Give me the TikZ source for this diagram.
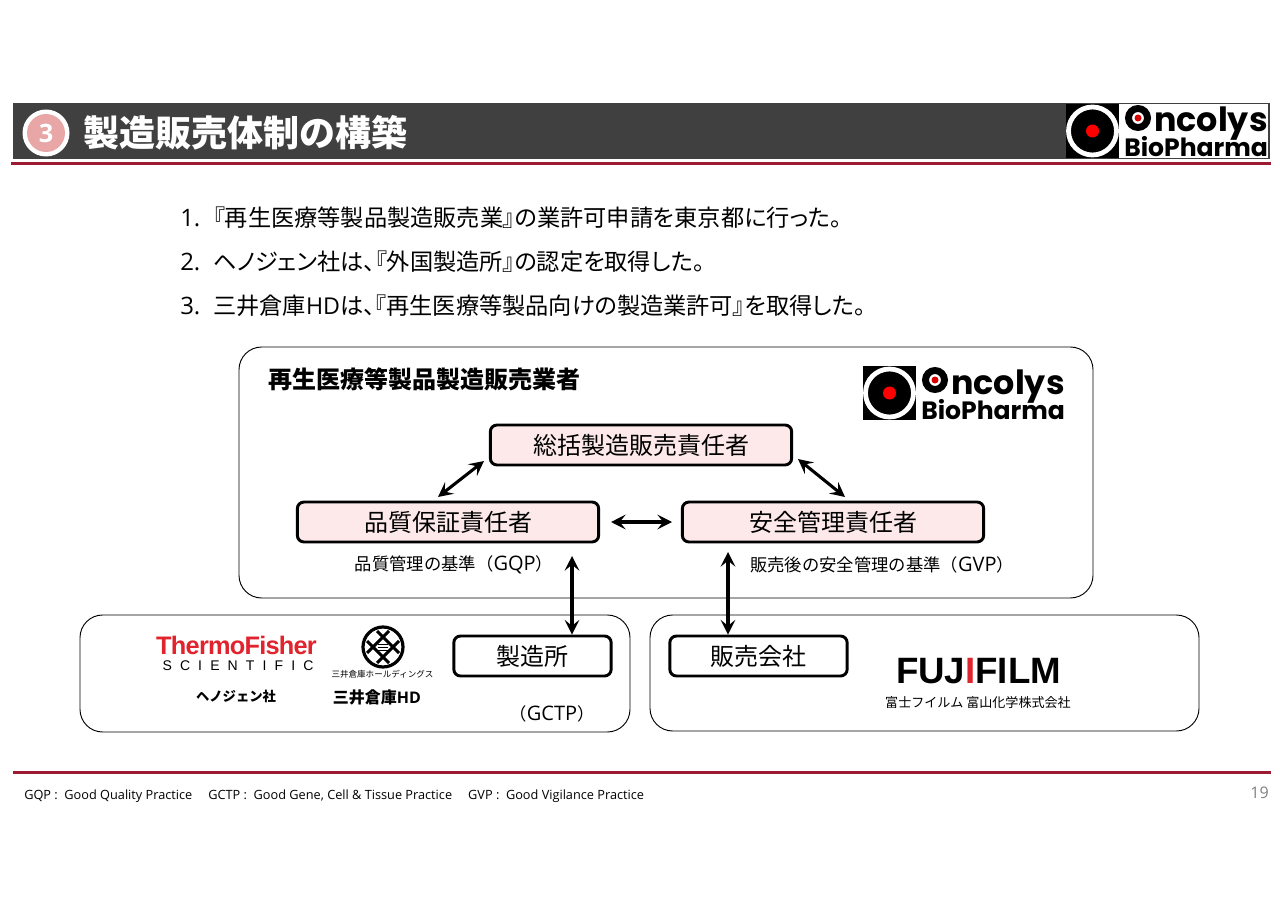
\documentclass[tikz,border=0pt]{standalone}
\usepackage{fontspec}
\setmainfont{Noto Sans CJK JP}
\newfontfamily\latfont{Open Sans}
\newfontfamily\logofont{Poppins}
\newfontfamily\brandfont{Liberation Sans}
\usepackage{xcolor}
\usepackage{tikz}
\usetikzlibrary{arrows.meta}
\definecolor{headgray}{HTML}{404040}
\definecolor{rulered}{HTML}{9C1B33}
\definecolor{boxpink}{HTML}{FDE9E9}
\definecolor{numpink}{HTML}{E8A6A6}
\definecolor{thermored}{HTML}{E1232E}
\newcommand{\fs}[1]{\fontsize{#1}{#1}\selectfont}
\newcommand{\lat}[1]{{\latfont #1}}
\tikzset{
  rolebox/.style={draw=black, line width=2.2pt, fill=boxpink, rounded corners=5pt,
    minimum width=226pt, minimum height=30pt, inner sep=0pt, font=\fs{18}},
  sitebox/.style={rolebox, fill=white},
  panel/.style={draw=black, line width=0.7pt, rounded corners=17pt},
  biarrow/.style={line width=2.3pt, {Stealth[length=11pt,width=11pt,inset=4.5pt]}-{Stealth[length=11pt,width=11pt,inset=4.5pt]}},
  redrule/.style={line width=2.6pt, rulered},
  oncolys/.pic={
    % Black square with ring and dot
    \fill[black] (0,0) rectangle (53,54);
    \draw[white, line width=3.6pt] (26.5,27) circle (24);
    \fill[red] (26.5,27) circle (6.5);
    % Wordmark
    \fill[white] (53,0) rectangle (202,54);
    \draw[black, line width=5.2pt] (72,14) circle (9.5);
    \fill[red!85!black] (72,14) circle (3.5);
    \node[anchor=base west, inner sep=0pt, font=\logofont\bfseries\fs{25}] (-word) at (88,28) {ncolys};
    \node[anchor=base west, inner sep=0pt, font=\logofont\bfseries\fs{18.8}] (-bio) at (58,53) {BioPharma};
  }
}
\begin{document}
\begin{tikzpicture}[x=0.75pt, y=-0.75pt]
  \useasboundingbox (0,0) rectangle (1280,905);
  % Header band
  \fill[headgray] (13,103) rectangle (1270,159);
  \draw[redrule] (11,163.5) -- (1271,163.5);
  \fill[white] (46,133) circle (23.5);
  \node[circle, fill=numpink, minimum size=28.5pt, inner sep=0pt, text=white,
    font=\latfont\bfseries\fs{19}] (num) at (46,133) {3};
  \node[anchor=west, inner sep=0pt, text=white, font=\bfseries\fs{27}] (title) at (83,133) {製造販売体制の構築};
  \pic (headlogo) at (1066,104) {oncolys};
  % Numbered list
  \foreach \txt [count=\i] in {『再生医療等製品製造販売業』の業許可申請を東京都に行った。,
      ヘノジェン社は、『外国製造所』の認定を取得した。,
      三井倉庫\lat{HD}は、『再生医療等製品向けの製造業許可』を取得した。} {
    \node[anchor=base west, inner sep=0pt, font=\latfont\fs{18}] (num\i) at (180,183+\i*44) {\i.};
    \node[anchor=base west, inner sep=0pt, font=\fs{17.4}] (item\i) at (213,183+\i*44) {\addfontfeature{RawFeature=+palt}\txt};
  }
  % Licence holder panel
  \draw[panel] (239,347) rectangle (1093,598);
  \node[anchor=west, inner sep=0pt, font=\bfseries\fs{18}] (holder) at (268,379) {再生医療等製品製造販売業者};
  \pic (panellogo) at (863,366) {oncolys};
  \node[rolebox] (somu) at (641,445) {総括製造販売責任者};
  \node[rolebox] (hinshitsu) at (448,522) {品質保証責任者};
  \node[rolebox] (anzen) at (833,522) {安全管理責任者};
  \node[font=\fs{13}, inner sep=0pt] (gqp) at (454,565) {品質管理の基準（\lat{\fs{15}GQP}）};
  \node[font=\fs{13}, inner sep=0pt] (gvp) at (882,565) {販売後の安全管理の基準（\lat{\fs{15}GVP}）};
  % Manufacturing and sales panels
  \draw[panel] (80,615) rectangle (630,732);
  \draw[panel] (650,615) rectangle (1199,731);
  \node[sitebox, minimum width=118pt] (seizo) at (532.5,656) {製造所};
  \node[sitebox, minimum width=133pt] (hanbai) at (758.5,656) {販売会社};
  \node[font=\fs{13}, inner sep=0pt] (gctp) at (552,714) {（\lat{\fs{15}GCTP}）};
  % Thermo Fisher logo
  \node[inner sep=0pt, text=thermored, font=\brandfont\bfseries\fs{19}] (thermo) at (236.5,645) {\addfontfeatures{LetterSpace=-3}ThermoFisher};
  \node[inner sep=0pt, font=\brandfont\fs{10.5}] (scientific) at (238,665.5) {\addfontfeatures{LetterSpace=58}SCIENTIFIC};
  \node[inner sep=0pt, font=\bfseries\fs{10}] (henogen) at (236,696) {ヘノジェン社};
  % Mitsui logo
  \draw[line width=2.4pt] (383,647) circle (20);
  \foreach \off in {-5,5} {
    \draw[line width=2.2pt] (383+\off-11,647-\off-11) -- (383+\off+11,647-\off+11);
    \draw[line width=2.2pt] (383+\off-11,647+\off+11) -- (383+\off+11,647+\off-11);
  }
  \foreach \off in {-3,0,3}
    \draw[line width=0.7pt] (378,647+\off) -- (388,647+\off);
  \node[inner sep=0pt, font=\fs{6.4}] (mitsuismall) at (382.5,674) {三井倉庫ホールディングス};
  \node[inner sep=0pt, font=\bfseries\fs{12}] (mitsui) at (377,697) {三井倉庫\lat{HD}};
  % Fujifilm logo
  \node[inner sep=0pt, font=\brandfont\bfseries\fs{27.5}] (fuji) at (978.5,671) {FUJ\textcolor{thermored}{I}FILM};
  \node[inner sep=0pt, font=\fs{9.8}] (toyama) at (978,703) {富士フイルム 富山化学株式会社};
  % Arrows
  \coordinate (a1) at (484,461);
  \coordinate (a2) at (438,497);
  \coordinate (b1) at (798,459);
  \coordinate (b2) at (845,497);
  \coordinate (c1) at (611,522);
  \coordinate (c2) at (672,522);
  \coordinate (d1) at (572,556);
  \coordinate (e1) at (728,552);
  \draw[biarrow] (a1) -- (a2);
  \draw[biarrow] (b1) -- (b2);
  \draw[biarrow] (c1) -- (c2);
  \draw[biarrow] (d1) -- (d1 |- seizo.north);
  \draw[biarrow] (e1) -- (e1 |- hanbai.north);
  % Footer
  \draw[redrule] (13,772.5) -- (1271,772.5);
  \node[anchor=west, inner sep=0pt, font=\latfont\fs{9.55}] (legend) at (24,796)
    {GQP : \ Good Quality Practice \quad GCTP : \ Good Gene, Cell \& Tissue Practice \quad GVP : \ Good Vigilance Practice};
  \node[anchor=east, inner sep=0pt, text=gray, font=\latfont\fs{12}] (page) at (1269,793) {19};
\end{tikzpicture}
\end{document}
